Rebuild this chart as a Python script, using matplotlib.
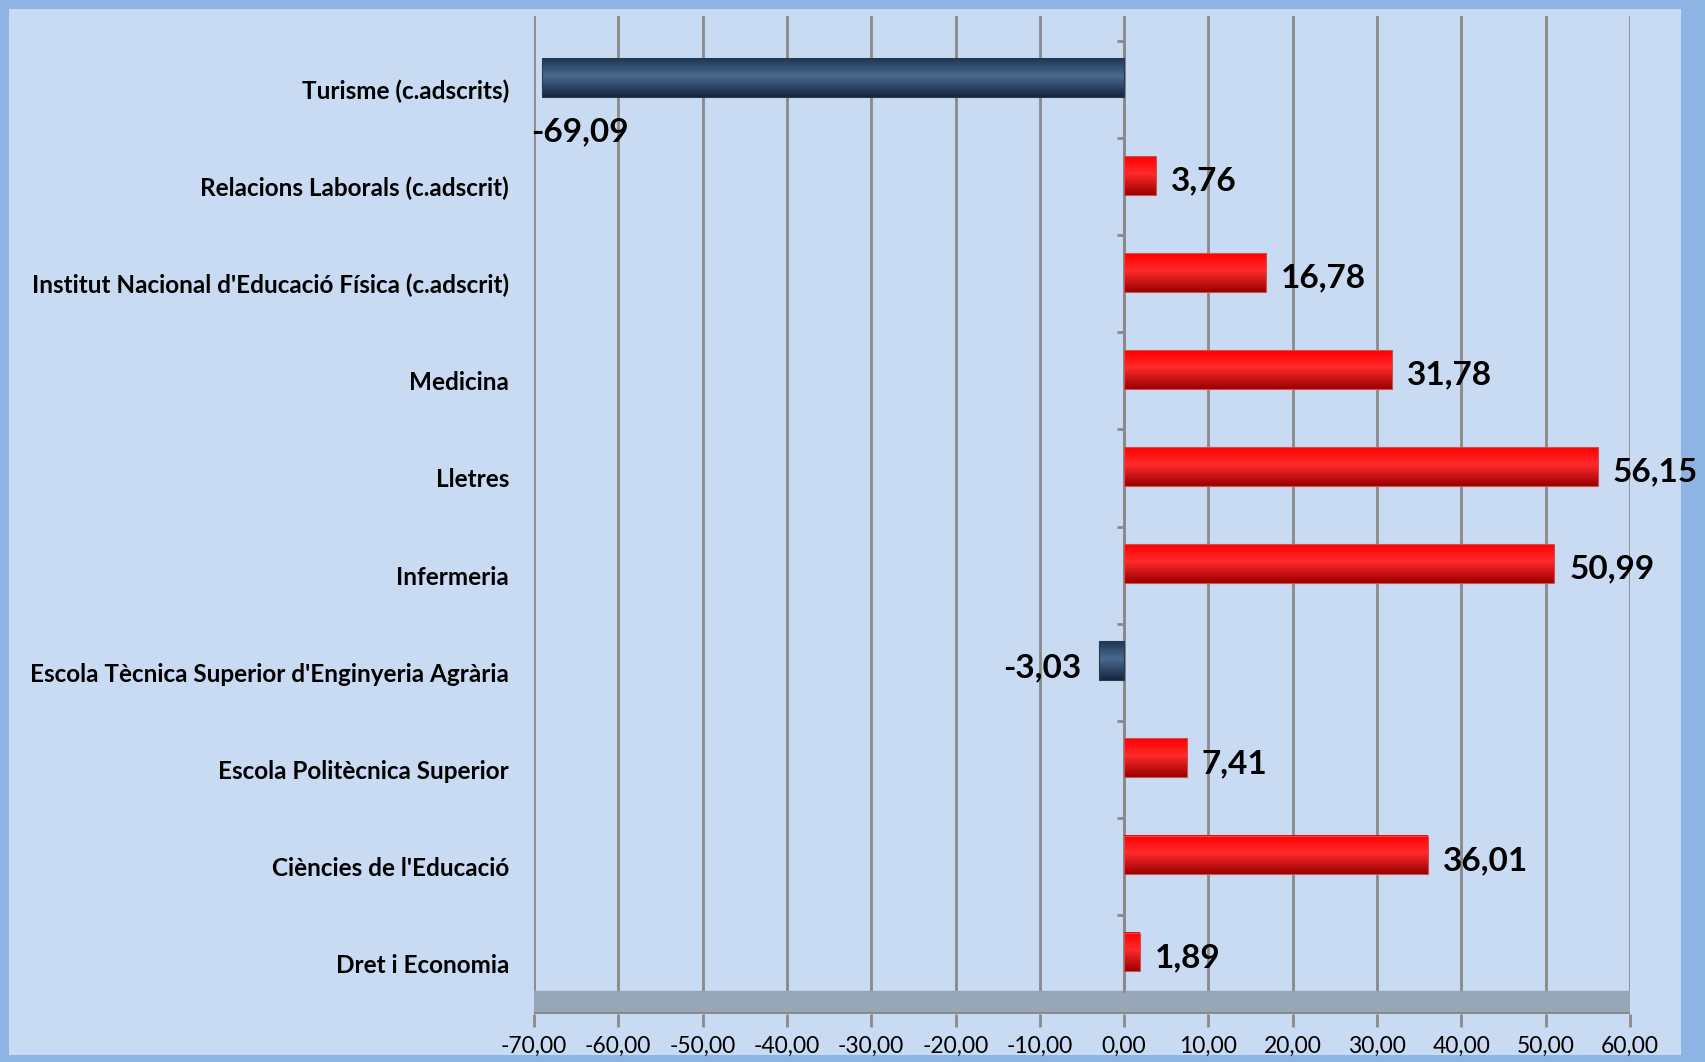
import numpy as np
import matplotlib.pyplot as plt
from matplotlib.patches import Rectangle
from matplotlib.colors import to_rgb

categories = [
    "Turisme (c.adscrits)",
    "Relacions Laborals (c.adscrit)",
    "Institut Nacional d'Educació Física (c.adscrit)",
    "Medicina",
    "Lletres",
    "Infermeria",
    "Escola Tècnica Superior d'Enginyeria Agrària",
    "Escola Politècnica Superior",
    "Ciències de l'Educació",
    "Dret i Economia",
]
values = [-69.09, 3.76, 16.78, 31.78, 56.15, 50.99, -3.03, 7.41, 36.01, 1.89]
xticks = list(range(-70, 61, 10))

W, H = 1706, 1062
fig = plt.figure(figsize=(W / 100, H / 100), dpi=100)
fig.patch.set_facecolor('#8db4e2')
fig.patches.append(Rectangle((9 / W, 1 - 1055 / H), (1681 - 9) / W, (1055 - 9) / H,
                             transform=fig.transFigure, facecolor='#c8dbf2',
                             edgecolor='none', zorder=-10))

ax = fig.add_axes([534 / W, 1 - 1014 / H, (1630 - 534) / W, (1014 - 16) / H])
ax.set_facecolor('none')

ytop, ybot = -0.757, 9.52


def gradient(top, mid, bot, n=64):
    t = np.linspace(0, 1, n)
    top, mid, bot = map(np.array, (top, mid, bot))
    rows = []
    for s in t:
        if s < 0.45:
            c = top + (mid - top) * (s / 0.45)
        else:
            c = mid + (bot - mid) * ((s - 0.45) / 0.55)
        rows.append(c)
    return np.array(rows)[:, None, :]


red_grad = gradient(to_rgb('#ff0000'), to_rgb('#ff2a2a'), to_rgb('#9a0000'))
blue_grad = gradient(to_rgb('#1f3553'), to_rgb('#4a6a90'), to_rgb('#152640'))

bar_h = 0.40
shift = -0.118
lab_fs = 24
for i, v in enumerate(values):
    yc = i + shift
    g = red_grad if v > 0 else blue_grad
    ax.imshow(g, extent=[0, v, yc + bar_h / 2, yc - bar_h / 2],
              aspect='auto', interpolation='bilinear', zorder=3)
    ax.barh(yc, v, height=bar_h, fill=False,
            edgecolor='#d05050' if v > 0 else '#2a3a50', linewidth=0.8, zorder=4)
    lab = f"{v:.2f}".replace('.', ',')
    if v >= 0:
        ax.text(v + 1.8, i - 0.06, lab, ha='left', va='center', fontsize=lab_fs,
                fontweight='bold', family='Lato', color='black', zorder=5)
    elif v < -60:
        ax.text(-70.3, i + 0.44, lab, ha='left', va='center', fontsize=lab_fs,
                fontweight='bold', family='Lato', color='black', zorder=5)
    else:
        ax.text(v - 2.0, i - 0.05, lab, ha='right', va='center', fontsize=lab_fs,
                fontweight='bold', family='Lato', color='black', zorder=5)

# vertical gridlines
for x in xticks:
    ax.plot([x, x], [ytop, ybot], color='#8a8a8a', lw=2, zorder=1)

# floor
ax.axhspan(9.28, ybot, color='#97a6b8', zorder=1.5)
ax.axhline(ybot, color='#8a8a8a', lw=3, zorder=2)

# category axis at zero with tick marks
ax.plot([0, 0], [-0.5, 9.28], color='#8a8a8a', lw=2, zorder=2)
ax.hlines(np.arange(-0.5, 9.0, 1.0), -0.9, 0, color='#8a8a8a', lw=2, zorder=2)

ax.set_xlim(-70, 60)
ax.set_ylim(ybot, ytop)
ax.set_xticks(xticks)
ax.set_xticklabels([f"{x:.2f}".replace('.', ',') for x in xticks],
                   fontsize=16.5, family='Lato')
ax.tick_params(axis='x', length=9, width=2, color='#8a8a8a', pad=7)
ax.set_yticks(range(len(categories)))
ax.set_yticklabels(categories, fontsize=17.5, fontweight='bold', family='Lato')
ax.tick_params(axis='y', length=0, pad=18)
for s in ax.spines.values():
    s.set_visible(False)

fig.savefig('out.png', dpi=100, facecolor=fig.get_facecolor())
